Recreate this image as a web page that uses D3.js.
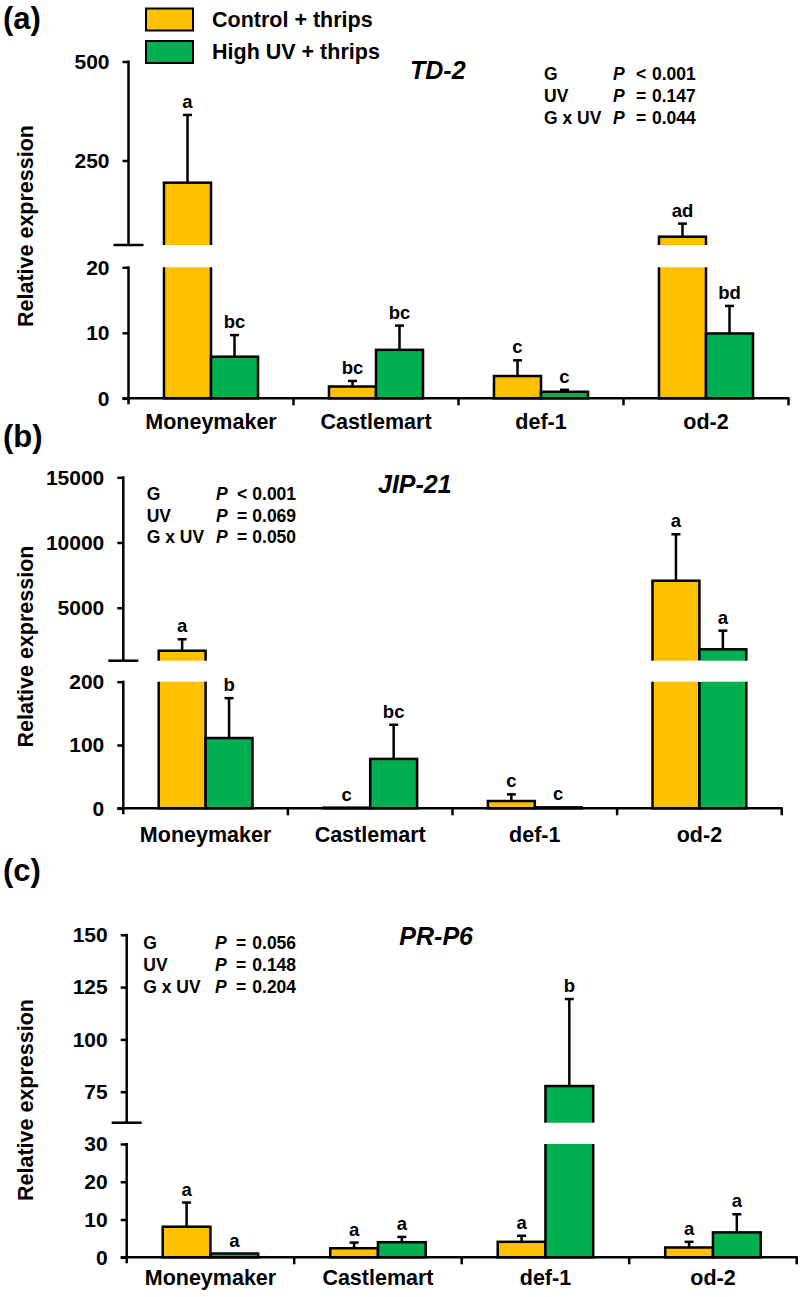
<!DOCTYPE html>
<html><head><meta charset="utf-8">
<script src="https://cdn.jsdelivr.net/npm/d3@7"></script>
<style>
body{margin:0;background:#fff}
svg{display:block}
text{font-family:"Liberation Sans",Arial,sans-serif;font-weight:bold;fill:#000}
</style>
</head><body><svg id="chart" width="800" height="1297"></svg>
<script>
// ---------- DATA ----------
const categories = ["Moneymaker", "Castlemart", "def-1", "od-2"];
const seriesNames = ["Control + thrips", "High UV + thrips"];
const seriesColors = ["#FFC000", "#00B050"];

// (a) TD-2
const td2Control = [194, 1.8, 3.4, 57.6];
const td2ControlSE = [171, 0.85, 2.4, 33];
const td2UV = [6.35, 7.4, 1.0, 9.9];
const td2UVSE = [3.3, 3.7, 0.3, 4.2];
const td2ControlLetters = ["a", "bc", "c", "ad"];
const td2UVLetters = ["bc", "bc", "c", "bd"];
const td2LowerTicks = [0, 10, 20];
const td2UpperTicks = [250, 500];
const td2Stats = [["G", "<", "0.001"], ["UV", "=", "0.147"], ["G x UV", "=", "0.044"]];

// (b) JIP-21
const jipControl = [1700, 1, 11.5, 7070];
const jipControlSE = [880, 0, 10.5, 3560];
const jipUV = [111, 78, 1.5, 1810];
const jipUVSE = [63, 54, 0, 1430];
const jipControlLetters = ["a", "c", "c", "a"];
const jipUVLetters = ["b", "bc", "c", "a"];
const jipLowerTicks = [0, 100, 200];
const jipUpperTicks = [5000, 10000, 15000];
const jipStats = [["G", "<", "0.001"], ["UV", "=", "0.069"], ["G x UV", "=", "0.050"]];

// (c) PR-P6
const prControl = [8.1, 2.4, 4.1, 2.6];
const prControlSE = [6.4, 1.5, 1.6, 1.5];
const prUV = [1.0, 4.0, 77.7, 6.6];
const prUVSE = [0, 1.4, 41.6, 4.8];
const prControlLetters = ["a", "a", "a", "a"];
const prUVLetters = ["a", "a", "b", "a"];
const prLowerTicks = [0, 10, 20, 30];
const prUpperTicks = [75, 100, 125, 150];
const prStats = [["G", "=", "0.056"], ["UV", "=", "0.148"], ["G x UV", "=", "0.204"]];

// ---------- LAYOUT ----------
const panels = [
  { label: "(a)", labelY: 29, gene: "TD-2", geneX: 410, geneY: 79.3, geneAnchor: "start",
    axisX: 128.5, xEnd: 788.5,
    lowerDomain: [0, 20], lowerRange: [398.3, 267.3],
    upperDomain: [250, 500], upperRange: [160.5, 61.5], breakY: 245,
    catY: 429, yTitleY: 226,
    statX: [544, 613, 636, 652], statY: 80.3,
    control: td2Control, controlSE: td2ControlSE, uv: td2UV, uvSE: td2UVSE,
    controlLetters: td2ControlLetters, uvLetters: td2UVLetters,
    lowerTicks: td2LowerTicks, upperTicks: td2UpperTicks, stats: td2Stats },
  { label: "(b)", labelY: 447, gene: "JIP-21", geneX: 378, geneY: 492.7, geneAnchor: "start",
    axisX: 123.3, xEnd: 781.7,
    lowerDomain: [0, 200], lowerRange: [808.3, 681.7],
    upperDomain: [5000, 15000], upperRange: [607.7, 477.3], breakY: 660.7,
    catY: 842, yTitleY: 646.5,
    statX: [146.7, 216, 237, 252.3], statY: 500,
    control: jipControl, controlSE: jipControlSE, uv: jipUV, uvSE: jipUVSE,
    controlLetters: jipControlLetters, uvLetters: jipUVLetters,
    lowerTicks: jipLowerTicks, upperTicks: jipUpperTicks, stats: jipStats },
  { label: "(c)", labelY: 880.5, gene: "PR-P6", geneX: 473, geneY: 945, geneAnchor: "end",
    axisX: 126.7, xEnd: 796.7,
    lowerDomain: [0, 30], lowerRange: [1257.3, 1144],
    upperDomain: [75, 150], upperRange: [1091.7, 934.8], breakY: 1122.7,
    catY: 1284.5, yTitleY: 1100,
    statX: [143.3, 215, 236, 252.3], statY: 949.3,
    control: prControl, controlSE: prControlSE, uv: prUV, uvSE: prUVSE,
    controlLetters: prControlLetters, uvLetters: prUVLetters,
    lowerTicks: prLowerTicks, upperTicks: prUpperTicks, stats: prStats }
];

const svg = d3.select("#chart");
const LW = 2.5;

// Legend
seriesNames.forEach((name, i) => {
  const y0 = 8.5 + i * 32.5;
  svg.append("rect").attr("x", 146).attr("y", y0).attr("width", 47).attr("height", 22)
    .attr("fill", seriesColors[i]).attr("stroke", "#000").attr("stroke-width", 2);
  svg.append("text").attr("x", 212).attr("y", y0 + 18).attr("font-size", 21.5).text(name);
});

panels.forEach(p => {
  const g = svg.append("g");
  const lower = d3.scaleLinear().domain(p.lowerDomain).range(p.lowerRange);
  const upper = d3.scaleLinear().domain(p.upperDomain).range(p.upperRange);
  const lowerMax = p.lowerDomain[1];
  const yv = v => v <= lowerMax ? lower(v) : upper(v);
  const base = lower(0);

  const x0 = d3.scaleBand().domain(categories).range([p.axisX, p.xEnd])
    .paddingInner(0.43).paddingOuter(0.215);
  const x1 = d3.scaleBand().domain([0, 1]).range([0, x0.bandwidth()]);

  const series = [
    { vals: p.control, se: p.controlSE, letters: p.controlLetters },
    { vals: p.uv, se: p.uvSE, letters: p.uvLetters }
  ];

  // bars
  series.forEach((s, si) => {
    g.selectAll(null).data(s.vals).enter().append("rect")
      .attr("x", (d, i) => x0(categories[i]) + x1(si))
      .attr("y", d => yv(d))
      .attr("width", x1.bandwidth())
      .attr("height", d => base - yv(d))
      .attr("fill", seriesColors[si]).attr("stroke", "#000").attr("stroke-width", LW);
  });
  // break gaps
  series.forEach((s, si) => {
    s.vals.forEach((d, i) => {
      if (d > lowerMax) {
        g.append("rect").attr("x", x0(categories[i]) + x1(si) - 2)
          .attr("y", p.breakY).attr("width", x1.bandwidth() + 4)
          .attr("height", lower(lowerMax) - p.breakY).attr("fill", "#fff");
      }
    });
  });
  // error bars + letters
  series.forEach((s, si) => {
    s.vals.forEach((d, i) => {
      const cx = x0(categories[i]) + x1(si) + x1.bandwidth() / 2;
      const top = yv(d + s.se[i]);
      if (s.se[i] > 0) {
        g.append("line").attr("x1", cx).attr("x2", cx).attr("y1", yv(d)).attr("y2", top)
          .attr("stroke", "#000").attr("stroke-width", LW);
        g.append("line").attr("x1", cx - 4.5).attr("x2", cx + 4.5).attr("y1", top).attr("y2", top)
          .attr("stroke", "#000").attr("stroke-width", LW);
      }
      g.append("text").attr("x", cx).attr("y", Math.min(top, yv(d)) - 7)
        .attr("text-anchor", "middle").attr("font-size", 18.5).text(s.letters[i]);
    });
  });

  // Y axes
  const upperAxis = d3.axisLeft(upper).tickValues(p.upperTicks).tickSize(6).tickPadding(13)
    .tickFormat(d3.format("d"));
  const lowerAxis = d3.axisLeft(lower).tickValues(p.lowerTicks).tickSize(6).tickPadding(13)
    .tickFormat(d3.format("d"));
  [upperAxis, lowerAxis].forEach(ax => {
    const ag = g.append("g").attr("transform", `translate(${p.axisX},0)`).call(ax);
    ag.select(".domain").remove();
    ag.selectAll(".tick line").attr("stroke", "#000").attr("stroke-width", LW);
    ag.selectAll(".tick text").attr("font-size", 21).attr("font-family", "Liberation Sans, Arial, sans-serif")
      .attr("font-weight", "bold").attr("fill", "#000");
  });
  // axis lines
  g.append("line").attr("x1", p.axisX).attr("x2", p.axisX)
    .attr("y1", upper(d3.max(p.upperTicks)) - 1).attr("y2", p.breakY)
    .attr("stroke", "#000").attr("stroke-width", LW);
  g.append("line").attr("x1", p.axisX - 15).attr("x2", p.axisX + 15)
    .attr("y1", p.breakY).attr("y2", p.breakY).attr("stroke", "#000").attr("stroke-width", LW);
  g.append("line").attr("x1", p.axisX).attr("x2", p.axisX)
    .attr("y1", lower(lowerMax) - 1).attr("y2", base + 6)
    .attr("stroke", "#000").attr("stroke-width", LW);
  // x axis
  g.append("line").attr("x1", p.axisX - 6).attr("x2", p.xEnd + 1)
    .attr("y1", base).attr("y2", base).attr("stroke", "#000").attr("stroke-width", LW);
  d3.range(1, categories.length + 1).forEach(k => {
    const xx = p.axisX + k * x0.step();
    g.append("line").attr("x1", xx).attr("x2", xx).attr("y1", base).attr("y2", base + 7)
      .attr("stroke", "#000").attr("stroke-width", LW);
  });
  // category labels
  categories.forEach(c => {
    g.append("text").attr("x", x0(c) + x0.bandwidth() / 2).attr("y", p.catY)
      .attr("text-anchor", "middle").attr("font-size", 21.5).text(c);
  });
  // y title
  g.append("text").attr("transform", `translate(32.5,${p.yTitleY}) rotate(-90)`)
    .attr("text-anchor", "middle").attr("font-size", 21.5).text("Relative expression");
  // panel label
  g.append("text").attr("x", 3).attr("y", p.labelY).attr("font-size", 31).text(p.label);
  // gene title
  g.append("text").attr("x", p.geneX).attr("y", p.geneY).attr("text-anchor", p.geneAnchor)
    .attr("font-size", 25).attr("font-style", "italic").text(p.gene);
  // stats
  p.stats.forEach((row, r) => {
    const yy = p.statY + r * 21.7;
    g.append("text").attr("x", p.statX[0]).attr("y", yy).attr("font-size", 17.5).text(row[0]);
    g.append("text").attr("x", p.statX[1]).attr("y", yy).attr("font-size", 17.5)
      .attr("font-style", "italic").text("P");
    g.append("text").attr("x", p.statX[2]).attr("y", yy).attr("font-size", 17.5).text(row[1]);
    g.append("text").attr("x", p.statX[3]).attr("y", yy).attr("font-size", 17.5).text(row[2]);
  });
});
</script>
</body></html>
